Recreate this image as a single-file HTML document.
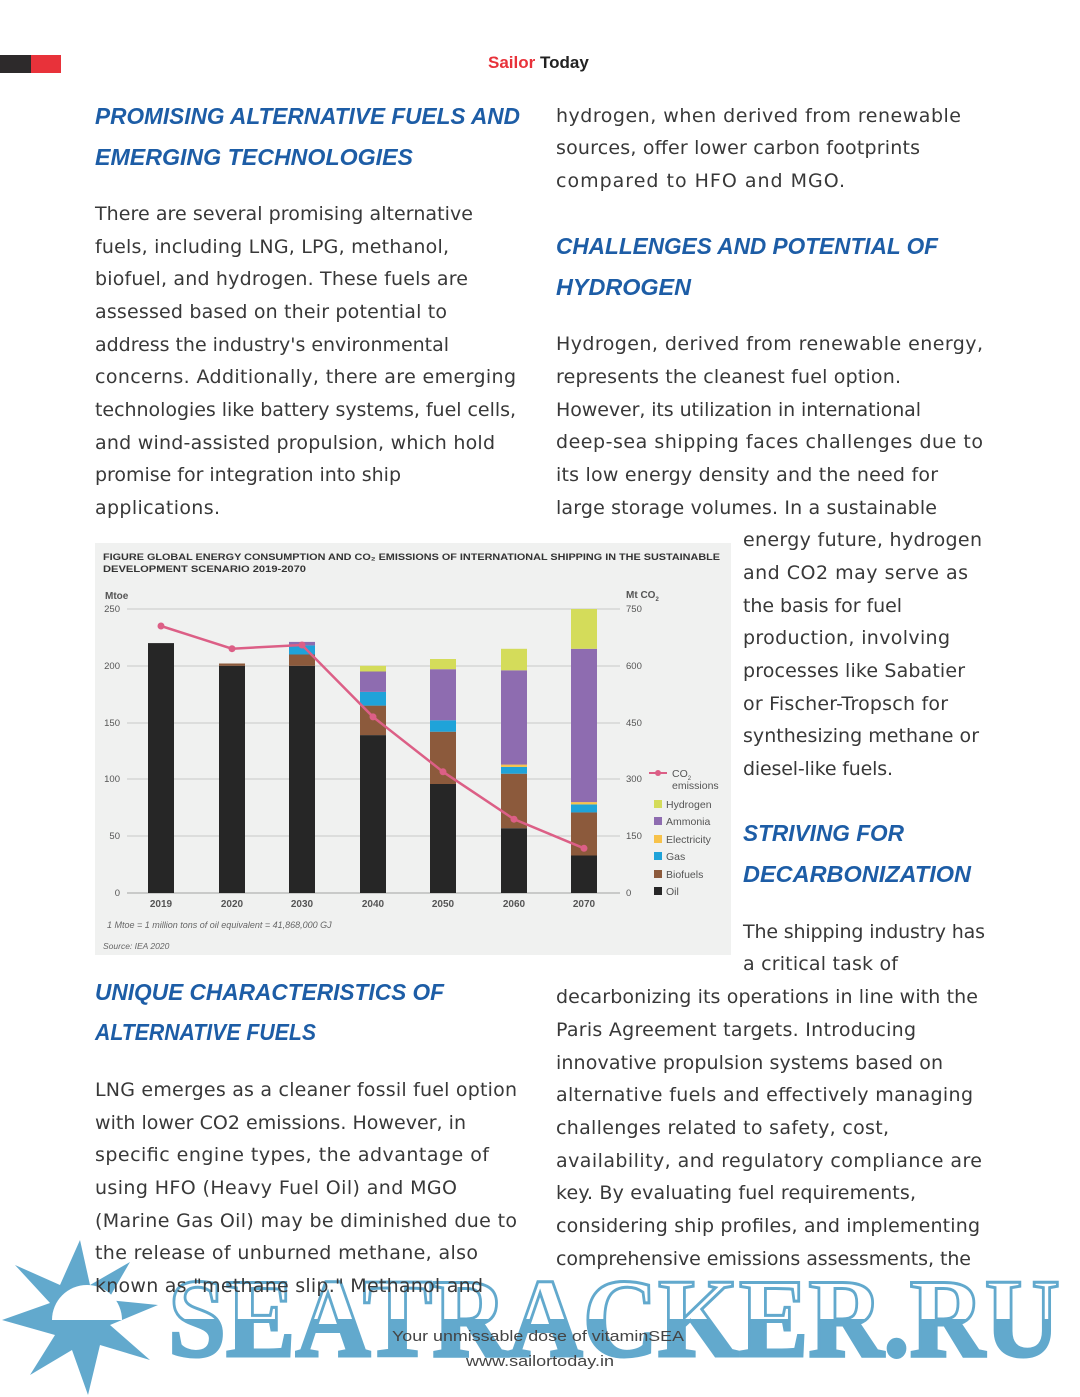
<!DOCTYPE html>
<html><head><meta charset="utf-8"><style>
html,body{margin:0;padding:0;background:#fff;}
svg{display:block}
.b{font-family:"DejaVu Sans","Liberation Sans",sans-serif;font-size:19px;fill:#383838;}
.h{font-family:"Liberation Sans",sans-serif;font-size:23px;font-weight:bold;font-style:italic;fill:#1d5da6;}
.c{font-family:"Liberation Sans",sans-serif;font-size:9.5px;fill:#555;}
</style></head><body>
<svg width="1080" height="1397" viewBox="0 0 1080 1397" xmlns="http://www.w3.org/2000/svg">
<!-- watermark (behind text) -->
<defs><linearGradient id="wg" x1="0" y1="0" x2="0" y2="1"><stop offset="0.5" stop-color="#fff" stop-opacity="0"/><stop offset="0.5" stop-color="#62a9cd"/></linearGradient></defs>
<g fill="#62a9cd">
<polygon points="80,1240 90,1285 130,1262 108,1300 158,1305 110,1325 150,1360 100,1345 88,1395 72,1350 30,1375 55,1335 2,1320 50,1303 15,1265 60,1285"/>
</g>
<path d="M52,1320 a35,35 0 0 1 70,0 z" fill="#fff"/>
<text x="168" y="1356" font-family="Liberation Serif,serif" font-weight="bold" font-size="112" textLength="892" lengthAdjust="spacingAndGlyphs" fill="url(#wg)" stroke="#62a9cd" stroke-width="3">SEATRACKER.RU</text>

<rect x="0" y="55" width="31" height="18" fill="#2d2a2b"/><rect x="31" y="55" width="30" height="18" fill="#e8323a"/>
<text x="488" y="68" font-family="Liberation Sans,sans-serif" font-weight="bold" font-size="17" fill="#e8323a">Sailor <tspan fill="#222">Today</tspan></text>
<g dominant-baseline="central">
<text class="h" x="95" y="116" textLength="425" lengthAdjust="spacingAndGlyphs">PROMISING ALTERNATIVE FUELS AND</text>
<text class="h" x="95" y="157" textLength="318" lengthAdjust="spacingAndGlyphs">EMERGING TECHNOLOGIES</text>
<text class="b" x="95" y="214" textLength="378">There are several promising alternative</text>
<text class="b" x="95" y="247" textLength="354">fuels, including LNG, LPG, methanol,</text>
<text class="b" x="95" y="279" textLength="373">biofuel, and hydrogen. These fuels are</text>
<text class="b" x="95" y="312" textLength="352">assessed based on their potential to</text>
<text class="b" x="95" y="345" textLength="354">address the industry's environmental</text>
<text class="b" x="95" y="377" textLength="421">concerns. Additionally, there are emerging</text>
<text class="b" x="95" y="410" textLength="421">technologies like battery systems, fuel cells,</text>
<text class="b" x="95" y="443" textLength="400">and wind-assisted propulsion, which hold</text>
<text class="b" x="95" y="475" textLength="306">promise for integration into ship</text>
<text class="b" x="95" y="508" textLength="125">applications.</text>
<text class="h" x="95" y="992" textLength="349" lengthAdjust="spacingAndGlyphs">UNIQUE CHARACTERISTICS OF</text>
<text class="h" x="95" y="1032" textLength="221" lengthAdjust="spacingAndGlyphs">ALTERNATIVE FUELS</text>
<text class="b" x="95" y="1090" textLength="422">LNG emerges as a cleaner fossil fuel option</text>
<text class="b" x="95" y="1123" textLength="371">with lower CO2 emissions. However, in</text>
<text class="b" x="95" y="1155" textLength="394">specific engine types, the advantage of</text>
<text class="b" x="95" y="1188" textLength="362">using HFO (Heavy Fuel Oil) and MGO</text>
<text class="b" x="95" y="1221" textLength="422">(Marine Gas Oil) may be diminished due to</text>
<text class="b" x="95" y="1253" textLength="383">the release of unburned methane, also</text>
<text class="b" x="95" y="1286" textLength="388">known as "methane slip." Methanol and</text>

<text class="b" x="556" y="116" textLength="405">hydrogen, when derived from renewable</text>
<text class="b" x="556" y="148" textLength="364">sources, offer lower carbon footprints</text>
<text class="b" x="556" y="181" textLength="289">compared to HFO and MGO.</text>
<text class="h" x="556" y="246" textLength="382" lengthAdjust="spacingAndGlyphs">CHALLENGES AND POTENTIAL OF</text>
<text class="h" x="556" y="287" textLength="135" lengthAdjust="spacingAndGlyphs">HYDROGEN</text>
<text class="b" x="556" y="344" textLength="427">Hydrogen, derived from renewable energy,</text>
<text class="b" x="556" y="377" textLength="345">represents the cleanest fuel option.</text>
<text class="b" x="556" y="410" textLength="365">However, its utilization in international</text>
<text class="b" x="556" y="442" textLength="427">deep-sea shipping faces challenges due to</text>
<text class="b" x="556" y="475" textLength="382">its low energy density and the need for</text>
<text class="b" x="556" y="508" textLength="381">large storage volumes. In a sustainable</text>
<text class="b" x="743" y="540" textLength="239">energy future, hydrogen</text>
<text class="b" x="743" y="573" textLength="225">and CO2 may serve as</text>
<text class="b" x="743" y="606" textLength="159">the basis for fuel</text>
<text class="b" x="743" y="638" textLength="207">production, involving</text>
<text class="b" x="743" y="671" textLength="222">processes like Sabatier</text>
<text class="b" x="743" y="704" textLength="205">or Fischer-Tropsch for</text>
<text class="b" x="743" y="736" textLength="236">synthesizing methane or</text>
<text class="b" x="743" y="769" textLength="150">diesel-like fuels.</text>
<text class="h" x="743" y="833" textLength="161" lengthAdjust="spacingAndGlyphs">STRIVING FOR</text>
<text class="h" x="743" y="874" textLength="228" lengthAdjust="spacingAndGlyphs">DECARBONIZATION</text>
<text class="b" x="743" y="932" textLength="242">The shipping industry has</text>
<text class="b" x="743" y="964" textLength="155">a critical task of</text>
<text class="b" x="556" y="997" textLength="422">decarbonizing its operations in line with the</text>
<text class="b" x="556" y="1030" textLength="360">Paris Agreement targets. Introducing</text>
<text class="b" x="556" y="1063" textLength="387">innovative propulsion systems based on</text>
<text class="b" x="556" y="1095" textLength="417">alternative fuels and effectively managing</text>
<text class="b" x="556" y="1128" textLength="333">challenges related to safety, cost,</text>
<text class="b" x="556" y="1161" textLength="426">availability, and regulatory compliance are</text>
<text class="b" x="556" y="1193" textLength="360">key. By evaluating fuel requirements,</text>
<text class="b" x="556" y="1226" textLength="424">considering ship profiles, and implementing</text>
<text class="b" x="556" y="1259" textLength="415">comprehensive emissions assessments, the</text>
</g>

<!-- chart -->
<rect x="95" y="543" width="636" height="412" fill="#f0f1f0"/>
<g font-family="Liberation Sans,sans-serif">
<text x="103" y="560" font-size="9.5" font-weight="bold" fill="#333" textLength="617" lengthAdjust="spacingAndGlyphs">FIGURE    GLOBAL ENERGY CONSUMPTION AND CO₂ EMISSIONS OF INTERNATIONAL SHIPPING IN THE SUSTAINABLE</text>
<text x="103" y="572" font-size="9.5" font-weight="bold" fill="#333" textLength="203" lengthAdjust="spacingAndGlyphs">DEVELOPMENT SCENARIO 2019-2070</text>
<text x="105" y="599" font-size="10" font-weight="bold" fill="#555">Mtoe</text>
<text x="626" y="598" font-size="10" font-weight="bold" fill="#555">Mt CO<tspan font-size="6" dy="3">2</tspan></text>
<g stroke="#bbb" stroke-width="0.8">
<line x1="127" y1="609" x2="620" y2="609"/><line x1="127" y1="666" x2="620" y2="666"/><line x1="127" y1="723" x2="620" y2="723"/>
<line x1="127" y1="779" x2="620" y2="779"/><line x1="127" y1="836" x2="620" y2="836"/><line x1="127" y1="893" x2="620" y2="893" stroke="#888"/>
</g>
<g class="c" text-anchor="end"><text x="120" y="612">250</text><text x="120" y="669">200</text><text x="120" y="726">150</text><text x="120" y="782">100</text><text x="120" y="839">50</text><text x="120" y="896">0</text></g>
<g class="c"><text x="626" y="612">750</text><text x="626" y="669">600</text><text x="626" y="726">450</text><text x="626" y="782">300</text><text x="626" y="839">150</text><text x="626" y="896">0</text></g>
<g fill="#262626">
<rect x="148" y="643.1" width="26" height="249.9"/>
<rect x="219" y="665.8" width="26" height="227.2"/>
<rect x="289" y="665.8" width="26" height="227.2"/>
<rect x="360" y="735.1" width="26" height="157.9"/>
<rect x="430" y="783.9" width="26" height="109.1"/>
<rect x="501" y="828.2" width="26" height="64.8"/>
<rect x="571" y="855.5" width="26" height="37.5"/>
</g>
<g fill="#8c5a3c">
<rect x="219" y="663.5" width="26" height="2.3"/><rect x="289" y="654.4" width="26" height="11.4"/>
<rect x="360" y="705.6" width="26" height="29.5"/><rect x="430" y="731.7" width="26" height="52.3"/>
<rect x="501" y="773.7" width="26" height="54.5"/><rect x="571" y="812.3" width="26" height="43.2"/>
</g>
<g fill="#1fa3d9">
<rect x="289" y="645.4" width="26" height="9.1"/><rect x="360" y="691.9" width="26" height="13.7"/>
<rect x="430" y="720.3" width="26" height="11.4"/><rect x="501" y="766.9" width="26" height="6.8"/><rect x="571" y="804.4" width="26" height="8"/>
</g>
<g fill="#f7c24a"><rect x="501" y="764.6" width="26" height="2.3"/><rect x="571" y="802.1" width="26" height="2.3"/></g>
<g fill="#8e6cb0">
<rect x="289" y="641.9" width="26" height="3.5"/><rect x="360" y="671.5" width="26" height="20.4"/>
<rect x="430" y="669.2" width="26" height="51.1"/><rect x="501" y="670.3" width="26" height="94.3"/><rect x="571" y="648.8" width="26" height="153.3"/>
</g>
<g fill="#d4dc5a">
<rect x="360" y="665.8" width="26" height="5.7"/><rect x="430" y="659" width="26" height="10.2"/>
<rect x="501" y="648.8" width="26" height="21.5"/><rect x="571" y="609" width="26" height="39.8"/>
</g>
<polyline points="161,626 232,648.7 302,645 373,716.9 443,771.8 514,819.2 584,848.3" fill="none" stroke="#dc5f86" stroke-width="2.5"/>
<g fill="#dc5f86"><circle cx="161" cy="626" r="3.5"/><circle cx="232" cy="648.7" r="3.5"/><circle cx="302" cy="645" r="3.5"/><circle cx="373" cy="716.9" r="3.5"/><circle cx="443" cy="771.8" r="3.5"/><circle cx="514" cy="819.2" r="3.5"/><circle cx="584" cy="848.3" r="3.5"/></g>
<g font-size="10" font-weight="bold" fill="#555" text-anchor="middle">
<text x="161" y="907">2019</text><text x="232" y="907">2020</text><text x="302" y="907">2030</text><text x="373" y="907">2040</text><text x="443" y="907">2050</text><text x="514" y="907">2060</text><text x="584" y="907">2070</text></g>
<text x="107" y="928" font-size="9" font-style="italic" fill="#666">1 Mtoe = 1 million tons of oil equivalent = 41,868,000 GJ</text>
<text x="103" y="949" font-size="8.5" font-style="italic" fill="#666">Source: IEA 2020</text>
<line x1="649" y1="773" x2="667" y2="773" stroke="#dc5f86" stroke-width="2"/><circle cx="658" cy="773" r="3" fill="#dc5f86"/>
<text x="672" y="777" font-size="10.5" fill="#555">CO<tspan font-size="6" dy="3">2</tspan></text>
<text x="672" y="789" font-size="10.5" fill="#555">emissions</text>
<rect x="654" y="800" width="8" height="8" fill="#d4dc5a"/><text x="666" y="808" font-size="10.5" fill="#555">Hydrogen</text>
<rect x="654" y="817" width="8" height="8" fill="#8e6cb0"/><text x="666" y="825" font-size="10.5" fill="#555">Ammonia</text>
<rect x="654" y="835" width="8" height="8" fill="#f7c24a"/><text x="666" y="843" font-size="10.5" fill="#555">Electricity</text>
<rect x="654" y="852" width="8" height="8" fill="#1fa3d9"/><text x="666" y="860" font-size="10.5" fill="#555">Gas</text>
<rect x="654" y="870" width="8" height="8" fill="#8c5a3c"/><text x="666" y="878" font-size="10.5" fill="#555">Biofuels</text>
<rect x="654" y="887" width="8" height="8" fill="#262626"/><text x="666" y="895" font-size="10.5" fill="#555">Oil</text>
</g>

<text x="538" y="1341" text-anchor="middle" font-family="Liberation Sans,sans-serif" font-size="15" fill="#444" textLength="292" lengthAdjust="spacingAndGlyphs">Your unmissable dose of vitaminSEA</text>
<text x="540" y="1366" text-anchor="middle" font-family="Liberation Sans,sans-serif" font-size="15" fill="#444" textLength="148" lengthAdjust="spacingAndGlyphs">www.sailortoday.in</text>
</svg>
</body></html>
